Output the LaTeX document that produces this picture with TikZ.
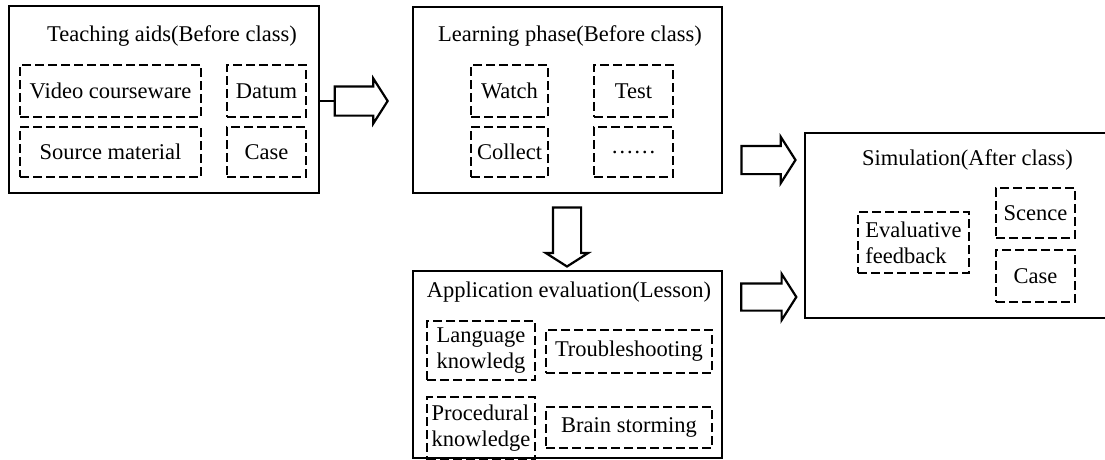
\documentclass[tikz,border=0pt]{standalone}
\usepackage{fontspec}
\setmainfont{Liberation Serif}
\usetikzlibrary{shapes.arrows}

\tikzset{
  panel/.style={draw, line width=2.4pt, inner sep=0pt},
  item/.style={draw, line width=2.2pt, dash pattern=on 9pt off 4pt, inner sep=0pt, align=left},
  fatarrow/.style={single arrow, draw, fill=white, line width=2.2pt, inner xsep=0pt, inner ysep=13pt,
    minimum height=54pt, single arrow head extend=9pt, single arrow tip angle=115},
  every node/.style={font=\fontsize{22.5}{26}\selectfont}
}

\begin{document}
\begin{tikzpicture}[x=1pt, y=-1pt]
 \useasboundingbox (0,0) rectangle (1105,459);

 % teaching aids
 \node[panel, minimum width=310pt, minimum height=187pt] (teach) at (164,99.5) {};
 \node (teachtitle) at (172,36) {Teaching aids(Before class)};
 \node[item, minimum width=181pt, minimum height=52pt] (video) at (110.5,91) {Video courseware};
 \node[item, minimum width=79pt, minimum height=52pt] (datum) at (266.5,91) {Datum};
 \node[item, minimum width=181pt, minimum height=50pt] (source) at (110.5,152) {Source material};
 \node[item, minimum width=79pt, minimum height=50pt] (casea) at (266.5,152) {Case};

 % learning phase
 \node[panel, minimum width=309pt, minimum height=186pt] (learn) at (567.5,100) {};
 \node (learntitle) at (570,36) {Learning phase(Before class)};
 \node[item, minimum width=77pt, minimum height=52pt] (watch) at (509.5,91) {Watch};
 \node[item, minimum width=79pt, minimum height=52pt] (test) at (633.5,91) {Test};
 \node[item, minimum width=77pt, minimum height=50pt] (collect) at (509.5,152) {Collect};
 \node[item, minimum width=79pt, minimum height=50pt] (etc) at (633.5,152) {\dots\dots};

 % simulation
 \node[panel, minimum width=307pt, minimum height=185pt] (simu) at (958.5,225.5) {};
 \node (simutitle) at (967.5,160) {Simulation(After class)};
 \node[item, minimum width=111pt, minimum height=61pt] (evalfb) at (913.5,242.5) {Evaluative\\feedback};
 \node[item, minimum width=79pt, minimum height=50pt] (scence) at (1035.5,213) {Scence};
 \node[item, minimum width=79pt, minimum height=52pt] (caseb) at (1035.5,276) {Case};

 % application evaluation
 \node[panel, minimum width=309pt, minimum height=187pt] (apply) at (567.5,364.5) {};
 \node (applytitle) at (569,292) {Application evaluation(Lesson)};
 \node[item, minimum width=108pt, minimum height=59pt] (langk) at (481,350.5) {Language\\knowledg};
 \node[item, minimum width=166pt, minimum height=43pt] (trouble) at (629,351.5) {Troubleshooting};
 \node[item, minimum width=108pt, minimum height=63pt] (prock) at (481,428.5) {Procedural\\knowledge};
 \node[item, minimum width=166pt, minimum height=41pt] (brain) at (629,427.5) {Brain storming};

 % block arrows
 \node[fatarrow, inner ysep=13.5pt, single arrow head extend=8pt, minimum height=53pt] (arr1) at (356.5,101) {};
 \node[fatarrow] (arr2) at (764,160) {};
 \node[fatarrow, inner ysep=12.5pt, single arrow head extend=9.5pt, minimum height=55pt] (arr3) at (764.5,297) {};
 \node[fatarrow, single arrow head extend=7pt, minimum height=59pt, rotate=-90] (arr4) at (567,232.5) {};

 \draw[line width=2.2pt] (teach.east |- arr1.west) -- (arr1.west);
\end{tikzpicture}
\end{document}
